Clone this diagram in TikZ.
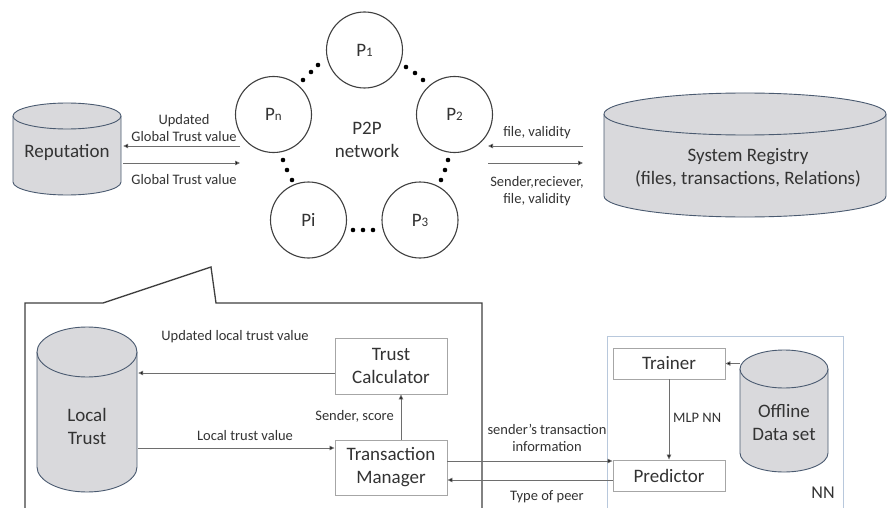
\documentclass[tikz,border=0pt]{standalone}
\usepackage{fontspec}
\setmainfont{Carlito}
\usetikzlibrary{arrows.meta,calc}
\definecolor{txt}{HTML}{333333}
\definecolor{cylfill}{HTML}{D9D9DC}
\definecolor{cylline}{HTML}{4A5A70}
\definecolor{boxline}{HTML}{A6A6A6}
\definecolor{nnline}{HTML}{B8C8DC}
\definecolor{arrline}{HTML}{6E6E6E}
\definecolor{dark}{HTML}{404040}
\newcommand{\dbcyl}[5]{%
  \filldraw[cyl] (#1-#4,#2+#5) -- (#1-#4,#3-#5)
    arc[start angle=180,end angle=0,x radius=#4,y radius=#5]
    -- (#1+#4,#2+#5)
    arc[start angle=0,end angle=-180,x radius=#4,y radius=#5] -- cycle;
  \draw[cyl] (#1-#4,#2+#5) arc[start angle=180,end angle=0,x radius=#4,y radius=#5];}
\newcommand{\sm}[1]{{\fontsize{13}{13}\selectfont #1}}
\begin{document}
\begin{tikzpicture}[x=1pt,y=1pt,yscale=-1,
  every node/.style={text=txt},
  cyl/.style={draw=cylline,fill=cylfill,line width=0.9pt},
  big/.style={font=\fontsize{19}{23}\selectfont,align=center,inner sep=0pt},
  lbl/.style={font=\fontsize{14.5}{17.5}\selectfont,align=center,inner sep=0pt},
  peer/.style={circle,draw=dark,line width=1.1pt,minimum size=76pt,inner sep=0pt,font=\fontsize{19}{23}\selectfont},
  procbox/.style={draw=boxline,line width=0.9pt,font=\fontsize{19}{23}\selectfont,align=center,inner sep=0pt},
  arr/.style={draw=arrline,line width=0.8pt,-{Triangle[length=5pt,width=4.5pt,fill=black]}},
  callout/.style={draw=dark,line width=1.3pt,line join=miter},
  nnbox/.style={draw=nnline,line width=1pt},
  dotc/.style={fill=black}]
\useasboundingbox (0,0) rectangle (888,508);
\fill[white] (0,0) rectangle (888,508);

% ---- top: reputation ----
\dbcyl{67}{103}{195}{54}{13}
\node[big,minimum width=108pt,minimum height=92pt] (rep) at (67,152) {Reputation};

% ---- P2P network ----
\node[peer] (p1) at (364.5,50) {P\sm{1}};
\node[peer] (pn) at (273.5,114.5) {P\sm{n}};
\node[peer] (p2) at (454.5,114.5) {P\sm{2}};
\node[peer] (pi) at (308.5,220) {Pi};
\node[peer] (p3) at (420,220) {P\sm{3}};
\node[big] (net) at (367,140) {P2P\\network};
\foreach \x/\y in {303/80,311/72,318/65, 406/67,415/73,423/80,
                   283/160,287/170,292/180, 448/160,445/170,441/180,
                   353/230,363/230,373/230}
  \fill[dotc] (\x,\y) circle (2.3);

% arrows reputation <-> network
\coordinate (gA) at (240,146);
\coordinate (gB) at (240,163);
\draw[arr] (gA) -- ([xshift=2pt]gA -| rep.east);
\draw[arr] ([xshift=2pt]gB -| rep.east) -- (gB);
\node[lbl] (lupd) at (184,128) {Updated\\Global Trust value};
\node[lbl] (lglb) at (184,180) {Global Trust value};

% ---- system registry ----
\dbcyl{745}{93}{217}{141}{21}
\node[big,minimum width=282pt,minimum height=124pt] (sr) at (748,168) {System Registry\\(files, transactions, Relations)};
\coordinate (sA1) at (583,146);
\coordinate (sA2) at (488,146);
\coordinate (sB1) at (488,163);
\coordinate (sB2) at (583,163);
\draw[arr] (sA1) -- (sA2);
\draw[arr] (sB1) -- (sB2);
\node[lbl] (lfv) at (537,133) {file, validity};
\node[lbl] (lsr) at (537,191) {Sender,reciever,\\file, validity};

% ---- callout ----
\draw[callout] (25,512) -- (25,303) -- (103,303) -- (211,267) -- (216,303) -- (482,303) -- (482,512);

% ---- local trust ----
\dbcyl{87}{327}{492}{50}{25}
\node[big,minimum width=100pt,minimum height=120pt] (lt) at (87,426) {Local\\Trust};
\node[procbox,minimum width=112pt,minimum height=56pt] (tc) at (391,366) {Trust\\Calculator};
\node[procbox,minimum width=112pt,minimum height=55pt] (tm) at (391,467.5) {Transaction\\Manager};
\coordinate (uy) at (0,373);
\coordinate (ly) at (0,448);
\coordinate (sx) at (401,0);
\draw[arr] (tc.west |- uy) -- ([xshift=1pt]lt.east |- uy);
\draw[arr] ([xshift=1pt]lt.east |- ly) -- (tm.west |- ly);
\draw[arr] (tm.north -| sx) -- (tc.south -| sx);
\node[lbl] (lult) at (235,337) {Updated local trust value};
\node[lbl] (lltv) at (245,436) {Local trust value};
\node[lbl,anchor=east] (lss) at (394,416) {Sender, score};

% ---- NN ----
\draw[nnbox] (607,512) -- (607,336) -- (843,336) -- (843,512);
\node[font=\fontsize{18}{22}\selectfont,inner sep=0pt] (nnl) at (823,493) {NN};
\node[procbox,minimum width=112pt,minimum height=31pt] (tr) at (669,363.5) {Trainer};
\node[procbox,minimum width=112pt,minimum height=31pt] (pr) at (669,475.5) {Predictor};
\dbcyl{784}{350}{472}{44}{19}
\node[big,minimum width=88pt,minimum height=100pt] (od) at (784,423) {Offline\\Data set};
\draw[arr] (od.west |- tr.east) -- (tr.east);
\draw[arr] (tr.south) -- (pr.north);
\node[lbl,anchor=west] (lmlp) at (673,418) {MLP NN};
\coordinate (ay1) at (0,461);
\coordinate (ay2) at (0,480);
\draw[arr] (tm.east |- ay1) -- (pr.west |- ay1);
\draw[arr] (pr.west |- ay2) -- (tm.east |- ay2);
\node[lbl] (lsti) at (547,438) {sender’s transaction\\information};
\node[lbl] (ltop) at (547,497) {Type of peer};
\end{tikzpicture}
\end{document}
